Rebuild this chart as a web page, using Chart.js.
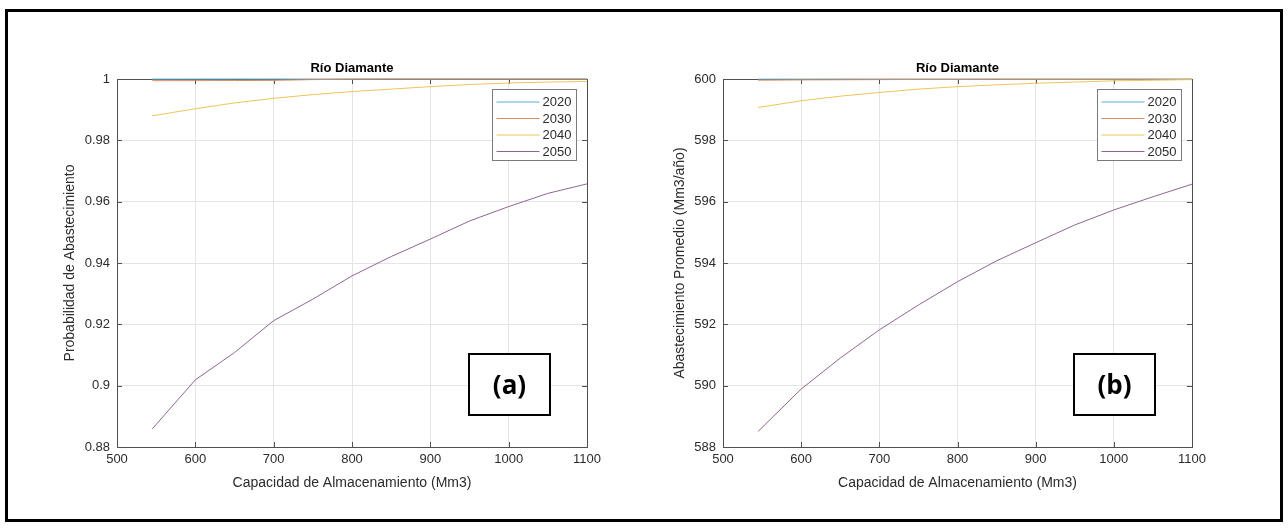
<!DOCTYPE html>
<html>
<head>
<meta charset="utf-8">
<script src="https://cdn.jsdelivr.net/npm/chart.js@4.4.0/dist/chart.umd.min.js"></script>
<style>
  html, body { margin: 0; padding: 0; background: #fff; }
  body { width: 1288px; height: 529px; position: relative; overflow: hidden; }
  #frame { position: absolute; left: 5px; top: 9px; width: 1272px; height: 507px; border: 3px solid #000; }
  canvas { position: absolute; top: 0; }
  #chartA { left: 0; }
  #chartB { left: 644px; }
</style>
</head>
<body>
<div id="frame"></div>
<canvas id="chartA" width="644" height="529"></canvas>
<canvas id="chartB" width="644" height="529"></canvas>
<script>
// Capacidad de almacenamiento (Mm3)
const capacidad = [545, 600, 650, 700, 750, 800, 850, 900, 950, 1000, 1050, 1100];
const anios = ['2020', '2030', '2040', '2050'];
const colores = ['#5aaed0', '#d98b63', '#efc458', '#8d6690'];

// (a) Probabilidad de abastecimiento
const prob2020 = [0.99997, 0.99998, 0.99999, 1, 1, 1, 1, 1, 1, 1, 1, 1];
const prob2030 = [0.99945, 0.99947, 0.9995, 0.99955, 0.9998, 0.99995, 1, 1, 1, 1, 1, 1];
const prob2040 = [0.9880, 0.9903, 0.9922, 0.9937, 0.9949, 0.9959, 0.9967, 0.9975, 0.9982, 0.9987, 0.9990, 0.9992];
const prob2050 = [0.8859, 0.9019, 0.9108, 0.9212, 0.9282, 0.9358, 0.9421, 0.9478, 0.9537, 0.9584, 0.9627, 0.9658];

// (b) Abastecimiento promedio (Mm3/año)
const abas2020 = [599.995, 599.997, 600, 600, 600, 600, 600, 600, 600, 600, 600, 600];
const abas2030 = [599.96, 599.97, 599.975, 599.98, 599.985, 599.985, 599.99, 599.99, 599.99, 599.99, 599.99, 599.99];
const abas2040 = [599.07, 599.29, 599.44, 599.56, 599.67, 599.75, 599.81, 599.86, 599.90, 599.94, 599.96, 599.98];
const abas2050 = [588.51, 589.89, 590.90, 591.82, 592.63, 593.39, 594.07, 594.66, 595.24, 595.73, 596.16, 596.57];

const xTicks = [500, 600, 700, 800, 900, 1000, 1100];
const yTicksA = [0.88, 0.9, 0.92, 0.94, 0.96, 0.98, 1];
const yTicksB = [588, 590, 592, 594, 596, 598, 600];

const fontFam = "'Liberation Sans', Arial, Helvetica, sans-serif";
const ejeColor = '#505050';
const textoColor = '#2b2b2b';

// ticks hacia adentro, marco, leyenda y etiqueta (a)/(b)
const extras = {
  id: 'extras',
  beforeDatasetsDraw(chart) {
    const { ctx, chartArea: a, scales: { x, y } } = chart;
    ctx.save();
    ctx.strokeStyle = ejeColor;
    ctx.lineWidth = 1;
    ctx.beginPath();
    x.ticks.forEach(t => {
      const px = Math.round(x.getPixelForValue(t.value)) + 0.5;
      ctx.moveTo(px, a.bottom); ctx.lineTo(px, a.bottom - 5);
      ctx.moveTo(px, a.top); ctx.lineTo(px, a.top + 5);
    });
    y.ticks.forEach(t => {
      const py = Math.round(y.getPixelForValue(t.value)) + 0.5;
      ctx.moveTo(a.left, py); ctx.lineTo(a.left + 5, py);
      ctx.moveTo(a.right, py); ctx.lineTo(a.right - 5, py);
    });
    ctx.stroke();
    ctx.strokeRect(Math.round(a.left) + 0.5, Math.round(a.top) + 0.5,
      Math.round(a.right - a.left), Math.round(a.bottom - a.top));
    ctx.restore();
  },
  afterDraw(chart, args, opts) {
    const { ctx, chartArea: a } = chart;
    ctx.save();
    // leyenda
    const lx = Math.round(a.right - 95) + 0.5, ly = Math.round(a.top + 10) + 0.5;
    ctx.fillStyle = '#fff';
    ctx.fillRect(lx, ly, 84, 71);
    ctx.strokeStyle = '#7a7a7a';
    ctx.lineWidth = 1;
    ctx.strokeRect(lx, ly, 84, 71);
    ctx.font = '13px ' + fontFam;
    ctx.textBaseline = 'middle';
    ctx.textAlign = 'left';
    chart.data.datasets.forEach((ds, i) => {
      const ry = ly + 12.5 + i * 16.5;
      ctx.strokeStyle = ds.borderColor;
      ctx.beginPath();
      ctx.moveTo(lx + 4, ry); ctx.lineTo(lx + 47, ry);
      ctx.stroke();
      ctx.fillStyle = textoColor;
      ctx.fillText(ds.label, lx + 50, ry + 0.5);
    });
    // etiqueta
    const bx = Math.round(a.right - 118.5), by = Math.round(a.bottom - 93);
    ctx.fillStyle = '#fff';
    ctx.fillRect(bx, by, 81, 61);
    ctx.strokeStyle = '#000';
    ctx.lineWidth = 2;
    ctx.strokeRect(bx, by, 81, 61);
    ctx.fillStyle = '#000';
    ctx.font = "bold 26px 'Open Sans', Lato, sans-serif";
    ctx.textAlign = 'center';
    ctx.fillText(opts.tag, bx + 40.5, by + 33);
    ctx.restore();
  }
};

function crearGrafico(id, series, yTicks, yTitulo, tag, lay) {
  return new Chart(document.getElementById(id), {
    type: 'line',
    data: {
      datasets: series.map((vals, i) => ({
        label: anios[i],
        data: capacidad.map((c, j) => ({ x: c, y: vals[j] })),
        borderColor: colores[i],
        borderWidth: 1,
        pointRadius: 0,
        tension: 0,
        clip: false,
        order: series.length - i
      }))
    },
    options: {
      responsive: false,
      animation: false,
      events: [],
      layout: { padding: { left: 0, right: lay.right, top: 60.4, bottom: 0 } },
      plugins: {
        legend: { display: false },
        tooltip: { enabled: false },
        title: {
          display: true,
          text: 'Río Diamante',
          fullSize: false,
          color: '#000',
          font: { family: fontFam, size: 13, weight: 'bold' },
          padding: { top: 0, bottom: 3 }
        },
        extras: { tag: tag }
      },
      scales: {
        x: {
          type: 'linear',
          min: xTicks[0],
          max: xTicks[xTicks.length - 1],
          afterBuildTicks: s => { s.ticks = xTicks.map(v => ({ value: v })); },
          afterFit: s => { s.height = 82; },
          grid: { color: '#e4e4e4', drawTicks: false },
          border: { display: false },
          ticks: {
            padding: 5,
            color: textoColor,
            font: { family: fontFam, size: 13 },
            maxRotation: 0,
            autoSkip: false,
            callback: v => String(v)
          },
          title: {
            display: true,
            text: 'Capacidad de Almacenamiento (Mm3)',
            color: textoColor,
            font: { family: fontFam, size: 14 },
            padding: { top: 0, bottom: 37.6 }
          }
        },
        y: {
          type: 'linear',
          min: yTicks[0],
          max: yTicks[yTicks.length - 1],
          afterBuildTicks: s => { s.ticks = yTicks.map(v => ({ value: v })); },
          afterFit: s => { s.width = lay.yW; },
          grid: { color: '#e4e4e4', drawTicks: false },
          border: { display: false },
          ticks: {
            padding: 7,
            color: textoColor,
            font: { family: fontFam, size: 13 },
            callback: v => String(+v.toFixed(3))
          },
          title: {
            display: true,
            text: yTitulo,
            color: textoColor,
            font: { family: fontFam, size: 14 },
            padding: { top: lay.titleTop, bottom: 0 }
          }
        }
      }
    },
    plugins: [extras]
  });
}

crearGrafico('chartA', [prob2020, prob2030, prob2040, prob2050], yTicksA,
  'Probabilidad de Abastecimiento', '(a)', { yW: 117, right: 57, titleTop: 61.6 });
crearGrafico('chartB', [abas2020, abas2030, abas2040, abas2050], yTicksB,
  'Abastecimiento Promedio (Mm3/año)', '(b)', { yW: 79, right: 96, titleTop: 27.6 });
</script>
</body>
</html>
